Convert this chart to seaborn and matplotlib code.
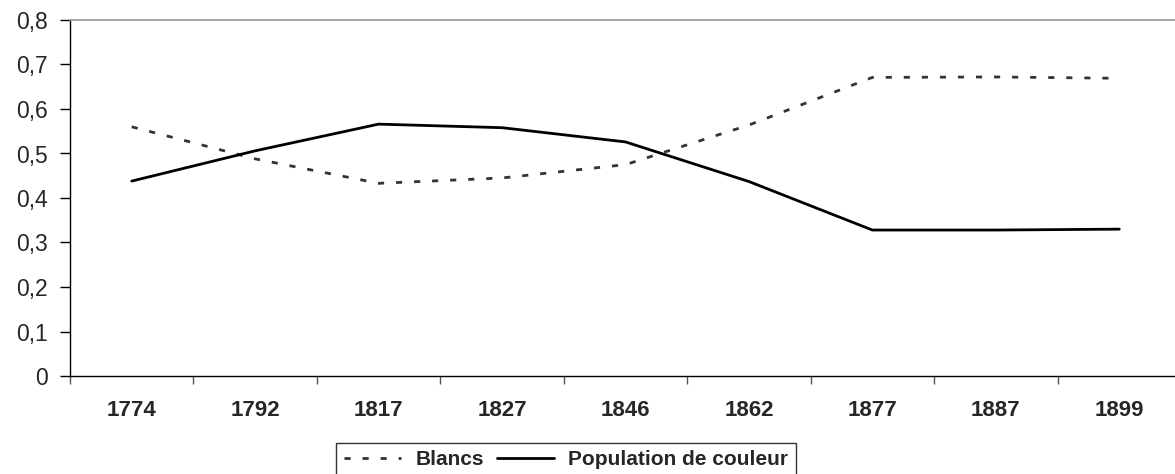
import numpy as np
import pandas as pd
import seaborn as sns
from matplotlib import pyplot as plt
from matplotlib.ticker import FixedLocator, FuncFormatter

annees = ["1774", "1792", "1817", "1827", "1846", "1862", "1877", "1887", "1899"]
blancs = [0.560, 0.488, 0.433, 0.445, 0.475, 0.564, 0.671, 0.672, 0.669]
couleur = [0.438, 0.506, 0.566, 0.558, 0.526, 0.437, 0.328, 0.328, 0.330]

sns.set_style("white")
plt.rcParams["font.family"] = ["Liberation Sans", "DejaVu Sans"]

t = pd.DataFrame({"pos": np.arange(len(annees)), "Blancs": blancs,
                  "Population de couleur": couleur})

fig = plt.figure(figsize=(11.75, 4.74), dpi=100)
ax = fig.add_axes([70 / 1175, 98 / 474, 1111 / 1175, 356 / 474])

sns.lineplot(data=t, x="pos", y="Blancs", ax=ax, color="#333333", lw=2,
             linestyle=(0, (2.2, 4.3)), label="Blancs")
sns.lineplot(data=t, x="pos", y="Population de couleur", ax=ax, color="black",
             lw=2, label="Population de couleur")

ax.set_xlim(-0.5, len(annees) - 0.5)
ax.set_ylim(0, 0.8)
ax.set_xlabel("")
ax.set_ylabel("")

ax.set_xticks(np.arange(len(annees)))
ax.set_xticklabels(annees, fontsize=16, fontweight="bold")
ax.xaxis.set_minor_locator(FixedLocator(np.arange(len(annees) + 1) - 0.5))
ax.tick_params(axis="x", which="major", length=0, pad=17)
ax.tick_params(axis="x", which="minor", length=6, width=1, color="#555555",
               bottom=True, direction="out")

ax.set_yticks(np.arange(0, 0.81, 0.1))
ax.yaxis.set_major_formatter(FuncFormatter(
    lambda v, p: "0" if abs(v) < 1e-9 else ("%.1f" % v).replace(".", ",")))
ax.tick_params(axis="y", which="major", length=7, width=1, color="black",
               left=True, direction="out", labelsize=16.5, pad=9)

for s in ["left", "bottom"]:
    ax.spines[s].set_color("black")
    ax.spines[s].set_linewidth(1)
ax.spines["top"].set_color("#999999")
ax.spines["top"].set_linewidth(1.2)
ax.spines["right"].set_visible(False)

ax.get_legend().remove()
h, l = ax.get_legend_handles_labels()
leg = fig.legend(h, l, loc="upper center", bbox_to_anchor=(566 / 1175, 31 / 474),
                 ncol=2, frameon=True, fancybox=False, edgecolor="black",
                 prop={"size": 15, "weight": "bold"}, handlelength=2.75,
                 handletextpad=0.7, columnspacing=0.6, borderpad=0.35,
                 borderaxespad=0)
leg.get_frame().set_linewidth(1)

fig.savefig("out.png", dpi=100)
